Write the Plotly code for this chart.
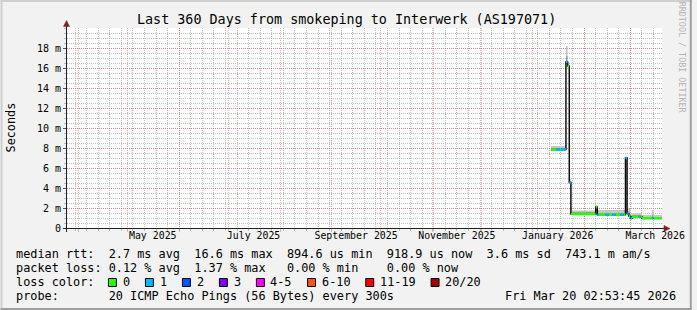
import plotly.graph_objects as go

# ---------------- data ----------------
seg_start = ["2026-01-12", "2026-01-15", "2026-01-17", "2026-01-18", "2026-01-21", "2026-01-22",
             "2026-01-23", "2026-01-24", "2026-02-08", "2026-02-09", "2026-02-10", "2026-02-14",
             "2026-02-16", "2026-02-18", "2026-02-20", "2026-02-23", "2026-02-25", "2026-02-26",
             "2026-02-27", "2026-02-28", "2026-03-01", "2026-03-02", "2026-03-06", "2026-03-07",
             "2026-03-08", "2026-03-14", "2026-03-15"]
data_end = "2026-03-20 02:53:45"
median_ms = [7.85, 7.85, 7.85, 7.85, 16.6, 16.2, 4.55, 1.4, 2.1, 1.33, 1.33, 1.33, 1.33, 1.33,
             1.33, 1.33, 1.33, 7.0, 1.45, 1.2, 0.97, 1.12, 1.12, 1.12, 0.97, 0.97, 0.97]
loss_pings = [0, 1, 0, 1, 1, 0, 1, 0, 0, 1, 0, 1, 0, 1, 0, 1, 0, 1, 1, 0, 1, 0, 1, 0, 0, 1, 0]
smoke_lo_ms = [7.75, 7.75, 7.75, 7.75, 16.45, 16.1, 4.45, 1.3, 2.0, 1.25, 1.25, 1.25, 1.25, 1.25,
               1.25, 1.25, 1.25, 6.9, 1.35, 1.1, 0.9, 1.05, 1.05, 1.05, 0.9, 0.9, 0.9]
smoke_mid_ms = [8.05, 8.05, 8.05, 8.05, 17.2, 16.45, 4.75, 1.6, 2.2, 1.55, 1.55, 1.55, 1.55, 1.55,
                1.55, 1.55, 1.55, 7.05, 1.75, 1.55, 1.15, 1.3, 1.3, 1.3, 1.15, 1.35, 1.15]
smoke_hi_ms = [8.2, 8.2, 8.2, 8.2, 18.2, 16.6, 4.9, 1.75, 2.3, 1.8, 1.8, 1.8, 1.8, 1.8,
               1.8, 1.8, 1.8, 7.1, 2.0, 1.9, 1.35, 1.45, 1.45, 1.45, 1.3, 1.8, 1.3]

range_start = "2025-03-25 02:53:45"
range_end = "2026-03-20 02:53:45"

x_label_dates = ["2025-05-16", "2025-07-16", "2025-09-16", "2025-11-16", "2026-01-16", "2026-03-16"]
x_label_text = ["May 2025", "July 2025", "September 2025", "November 2025", "January 2026", "March 2026"]
y_tick_vals = [0, 2, 4, 6, 8, 10, 12, 14, 16, 18]
y_tick_text = ["0", "2 m", "4 m", "6 m", "8 m", "10 m", "12 m", "14 m", "16 m", "18 m"]

loss_labels = ["0", "1", "2", "3", "4-5", "6-10", "11-19", "20/20"]
loss_colors = ["#26ff00", "#00b8ff", "#0059ff", "#7e00ff", "#ff00ff", "#ff5500", "#ff0000", "#a10000"]

title_text = "Last 360 Days from smokeping to Interwerk (AS197071)"
row_rtt = "median rtt:  2.7 ms avg  16.6 ms max  894.6 us min  918.9 us now  3.6 ms sd  743.1 m am/s"
row_loss = "packet loss: 0.12 % avg  1.37 % max   0.00 % min    0.00 % now"
row_color = "loss color:"
row_probe = "probe:       20 ICMP Echo Pings (56 Bytes) every 300s"
row_date = "Fri Mar 20 02:53:45 2026"
watermark = "RRDTOOL / TOBI OETIKER"

# ---------------- geometry helpers ----------------
W, H = 697, 310
ML, MR, MT, MB = 67, 30, 28, 82
PW = W - ML - MR
PH = H - MT - MB
MONO = "DejaVu Sans Mono"


def px(x):
    return (x - ML) / PW


def py(y):
    return (H - MB - y) / PH


def nb(s):
    return s.replace(" ", "\u00a0")


def loss_class(p):
    if p <= 3:
        return p
    if p <= 5:
        return 4
    if p <= 10:
        return 5
    if p <= 19:
        return 6
    return 7


fig = go.Figure()

xs = seg_start + [data_end]


def ext(v):
    return v + [v[-1]]


# smoke
fig.add_trace(go.Scatter(x=xs, y=ext(smoke_lo_ms), mode="lines", line=dict(width=0, shape="hv"),
                         hoverinfo="skip", showlegend=False))
fig.add_trace(go.Scatter(x=xs, y=ext(smoke_mid_ms), mode="lines", line=dict(width=0, shape="hv"),
                         fill="tonexty", fillcolor="#9c9c9c", hoverinfo="skip", showlegend=False))
fig.add_trace(go.Scatter(x=xs, y=ext(smoke_hi_ms), mode="lines", line=dict(width=0, shape="hv"),
                         fill="tonexty", fillcolor="#c6c6c6", hoverinfo="skip", showlegend=False))
# median (black steps)
fig.add_trace(go.Scatter(x=xs, y=ext(median_ms), mode="lines", line=dict(width=1.4, shape="hv", color="#000000"),
                         hoverinfo="skip", showlegend=False))
# coloured median segments by loss
for c in range(len(loss_colors)):
    sx, sy = [], []
    for i, v in enumerate(median_ms):
        if loss_class(loss_pings[i]) == c:
            sx += [xs[i], xs[i + 1], None]
            sy += [v, v, None]
    if sx:
        fig.add_trace(go.Scatter(x=sx, y=sy, mode="lines", line=dict(width=2.6, color=loss_colors[c]),
                                 hoverinfo="skip", showlegend=False))

# invisible trace for the overlay axis
fig.add_trace(go.Scatter(x=[range_start, range_end], y=[0, 0], xaxis="x2", mode="lines",
                         line=dict(width=0), hoverinfo="skip", showlegend=False))

GRID = "rgba(143,143,143,0.55)"
MGRID = "rgba(222,79,79,0.45)"

fig.update_layout(
    width=W, height=H,
    margin=dict(l=ML, r=MR, t=MT, b=MB, pad=0),
    paper_bgcolor="#f2f2f2",
    plot_bgcolor="#ffffff",
    font=dict(family=MONO, size=10, color="#000000"),
    xaxis=dict(type="date", range=[range_start, range_end], showgrid=False, zeroline=False,
               showline=False, tickmode="array", tickvals=x_label_dates, ticktext=x_label_text,
               ticks="", tickfont=dict(family=MONO, size=9.9, color="#000000"),
               minor=dict(dtick=7 * 86400000, tick0="2025-03-30", showgrid=True, gridcolor=GRID,
                          griddash="1px,1px", gridwidth=1, ticks="outside", ticklen=2, tickcolor=GRID)),
    xaxis2=dict(type="date", range=[range_start, range_end], overlaying="x", anchor="y", side="bottom",
                showgrid=True, gridcolor=MGRID, griddash="1px,1px", gridwidth=1, zeroline=False,
                showticklabels=False, dtick="M1", tick0="2025-04-01", ticks="outside", ticklen=3,
                tickcolor=MGRID, showline=False),
    yaxis=dict(range=[0, 20], tickmode="array", tickvals=y_tick_vals, ticktext=y_tick_text,
               showgrid=True, gridcolor=MGRID, griddash="1px,1px", gridwidth=1, zeroline=False,
               showline=False, ticks="outside", ticklen=3, tickcolor="#555555",
               tickfont=dict(family=MONO, size=10, color="#000000"),
               minor=dict(dtick=0.5, showgrid=True, gridcolor=GRID, griddash="1px,1px", gridwidth=1,
                          ticks="outside", ticklen=2, tickcolor=GRID)),
)

shapes = []
# 3D frame
shapes.append(dict(type="rect", xref="paper", yref="paper", x0=px(0), x1=px(W), y0=py(0), y1=py(2),
                   fillcolor="#cfcfcf", line=dict(width=0), layer="above"))
shapes.append(dict(type="rect", xref="paper", yref="paper", x0=px(0), x1=px(2), y0=py(0), y1=py(H),
                   fillcolor="#cfcfcf", line=dict(width=0), layer="above"))
shapes.append(dict(type="rect", xref="paper", yref="paper", x0=px(0), x1=px(W), y0=py(H - 2), y1=py(H),
                   fillcolor="#9e9e9e", line=dict(width=0), layer="above"))
shapes.append(dict(type="rect", xref="paper", yref="paper", x0=px(W - 2), x1=px(W), y0=py(0), y1=py(H),
                   fillcolor="#9e9e9e", line=dict(width=0), layer="above"))
# axes with arrows
AX = "#1f1f1f"
AR = "#801f1f"
shapes.append(dict(type="line", xref="paper", yref="paper", x0=px(63), x1=px(670), y0=py(228.5), y1=py(228.5),
                   line=dict(color=AX, width=1), layer="above"))
shapes.append(dict(type="line", xref="paper", yref="paper", x0=px(66.5), x1=px(66.5), y0=py(232), y1=py(25),
                   line=dict(color=AX, width=1), layer="above"))


def path(points):
    s = "M " + " L ".join(f"{px(a)},{py(b)}" for a, b in points) + " Z"
    return s


shapes.append(dict(type="path", xref="paper", yref="paper", path=path([(669, 225.5), (675, 228.5), (669, 231.5)]),
                   fillcolor=AR, line=dict(color=AR, width=0.5), layer="above"))
shapes.append(dict(type="path", xref="paper", yref="paper", path=path([(63.5, 26.5), (66.5, 20.5), (69.5, 26.5)]),
                   fillcolor=AR, line=dict(color=AR, width=0.5), layer="above"))

annotations = []


def text(s, x, y, size=11.85, xanchor="left", color="#000000", angle=0):
    annotations.append(dict(text=nb(s), x=px(x), y=py(y), xref="paper", yref="paper", showarrow=False,
                            xanchor=xanchor, yanchor="middle", borderpad=0, borderwidth=0, textangle=angle,
                            font=dict(family=MONO, size=size, color=color)))


text(title_text, 348.5, 19, size=13.4, xanchor="center")
text("Seconds", 10.5, 127.5, size=11.8, xanchor="center", angle=-90)
text(watermark, 687.5, 58, size=8.4, xanchor="center", color="#b4b4b4", angle=90)

text(row_rtt, 16, 254.3)
text(row_loss, 16, 268.3)
text(row_color, 16, 282.3)
text(row_probe, 16, 296.3)
text(row_date, 681, 296.3, xanchor="right")

bx = 108.3
CW = 7.14
for lab, col in zip(loss_labels, loss_colors):
    shapes.append(dict(type="rect", xref="paper", yref="paper", x0=px(bx + 0.5), x1=px(bx + 8.5),
                       y0=py(278.5), y1=py(286.5), fillcolor=col, line=dict(color="#000000", width=1),
                       layer="above"))
    text(lab, bx + 14.7, 282.3)
    bx += 37.3 + CW * (len(lab) - 1)

fig.update_layout(shapes=shapes, annotations=annotations)
fig.write_html("out.html")
